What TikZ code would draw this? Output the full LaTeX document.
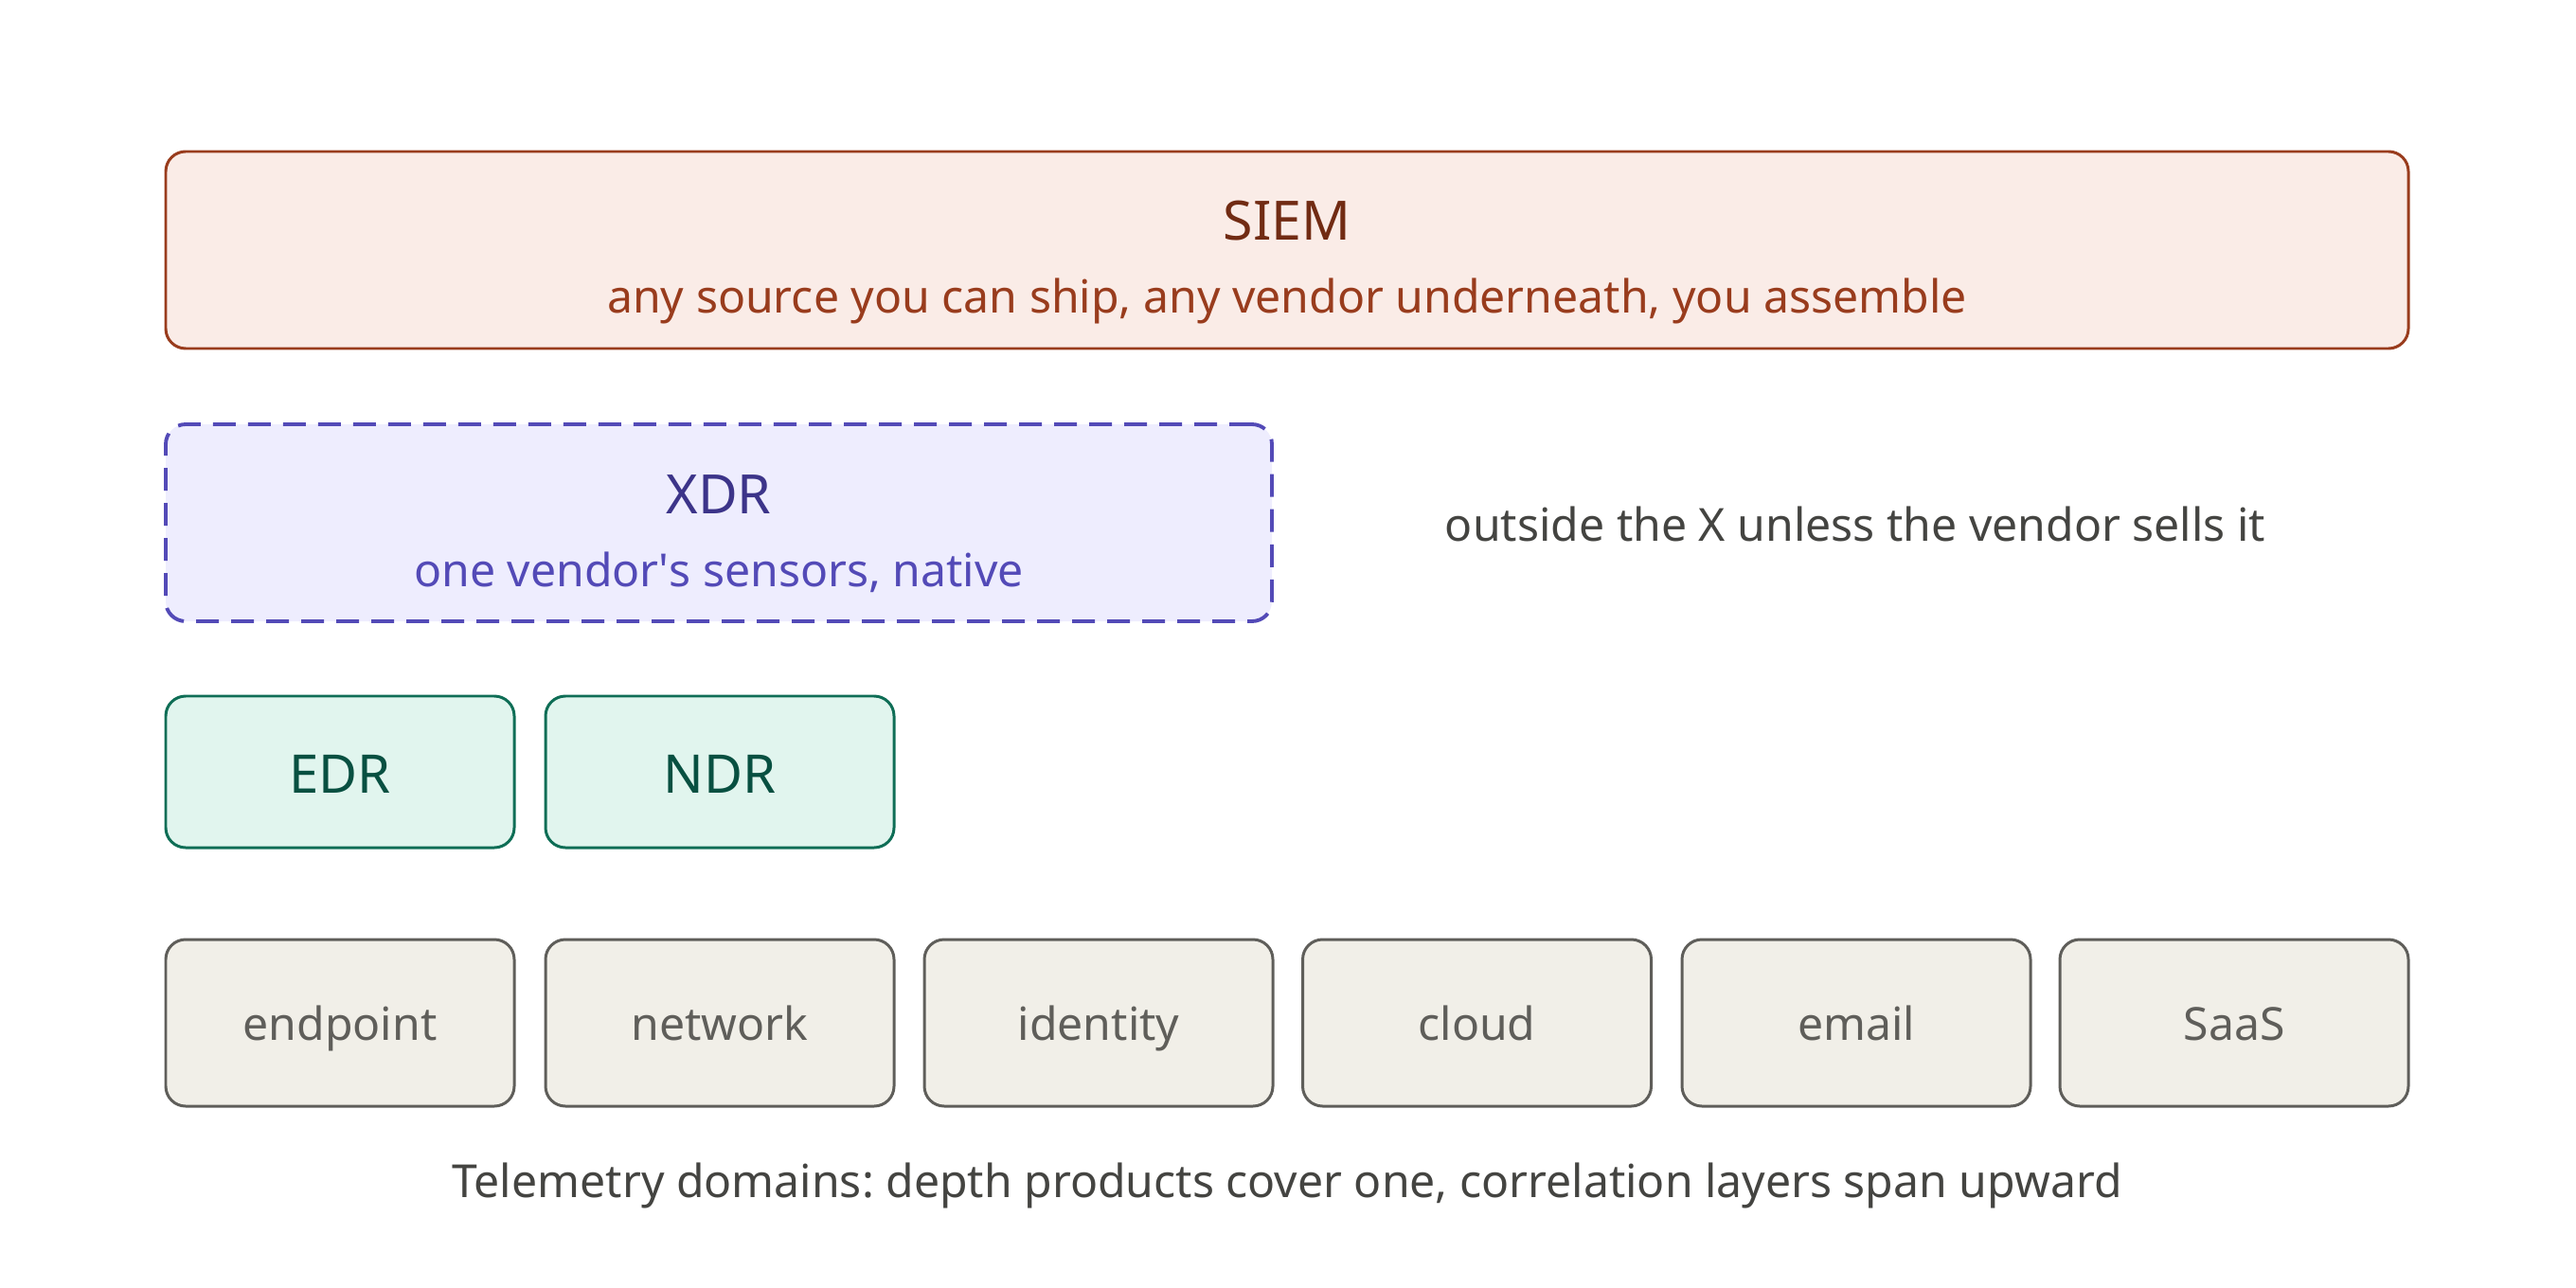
\documentclass[tikz,border=0pt]{standalone}
\usepackage{fontspec}
\setmainfont{Noto Sans}
\usepackage{xcolor}
\usepackage{tikz}
\frenchspacing

\definecolor{siemfill}{HTML}{FAECE7}
\definecolor{siemline}{HTML}{993C1D}
\definecolor{siemtext}{HTML}{712B13}
\definecolor{xdrfill}{HTML}{EEEDFE}
\definecolor{xdrline}{HTML}{534AB7}
\definecolor{xdrtext}{HTML}{3C3489}
\definecolor{dfill}{HTML}{E1F5EE}
\definecolor{dline}{HTML}{0F6E56}
\definecolor{dtext}{HTML}{085041}
\definecolor{gfill}{HTML}{F1EFE8}
\definecolor{gline}{HTML}{5F5E5A}
\definecolor{gtext}{HTML}{444441}

\begin{document}
\begin{tikzpicture}[
    box/.style={shape=rectangle, rounded corners=0.21cm, inner sep=0pt, line width=0.85pt, text height=2ex, text depth=0pt},
    layer/.style={box, minimum height=2.08cm},
    prod/.style={box, draw=dline, fill=dfill, text=dtext, minimum width=3.68cm, minimum height=1.60cm, text height=2.35ex, font=\fontsize{16}{20}\selectfont},
    dom/.style={box, draw=gline, fill=gfill, text=gline, minimum width=3.68cm, minimum height=1.76cm, font=\fontsize{13.7}{17}\selectfont},
    title/.style={anchor=base, font=\fontsize{16.3}{20}\selectfont},
    sub/.style={anchor=base, font=\fontsize{13.7}{16}\selectfont}]
    \useasboundingbox (0,0) rectangle (27.2,-13.6);

    \node[layer, draw=siemline, fill=siemfill, minimum width=23.68cm] (siem) at (13.59,-2.64) {};
    \node[title, text=siemtext] (siemname) at ([yshift=0.10cm]siem.center) {SIEM};
    \node[sub, text=siemline] (siemsub) at ([yshift=-0.67cm]siem.center) {any source you can ship, any vendor underneath, you assemble};

    \node[layer, draw=xdrline, fill=xdrfill, dashed, dash pattern=on 0.24cm off 0.13cm, line width=1.1pt, minimum width=11.68cm] (xdr) at (7.59,-5.52) {};
    \node[title, text=xdrtext] (xdrname) at ([yshift=0.10cm]xdr.center) {XDR};
    \node[sub, text=xdrline] (xdrsub) at ([yshift=-0.67cm]xdr.center) {one vendor{\textquotesingle}s sensors, native};

    \node[sub, text=gtext, anchor=center] (outside) at (19.59,-5.53) {outside the X unless the vendor sells it};

    \node[prod] (edr) at (3.59,-8.15) {EDR};
    \node[prod] (ndr) at (7.60,-8.15) {NDR};

    \node[dom] (endpoint) at (3.59,-10.80) {endpoint};
    \node[dom] (network) at (7.60,-10.80) {network};
    \node[dom] (identity) at (11.60,-10.80) {identity};
    \node[dom] (cloud) at (15.595,-10.80) {cloud};
    \node[dom] (email) at (19.60,-10.80) {email};
    \node[dom] (saas) at (23.59,-10.80) {SaaS};

    \node[text=gtext, font=\fontsize{13.7}{17}\selectfont] (caption) at (13.59,-12.52) {Telemetry domains: depth products cover one, correlation layers span upward};
  \end{tikzpicture}
\end{document}
